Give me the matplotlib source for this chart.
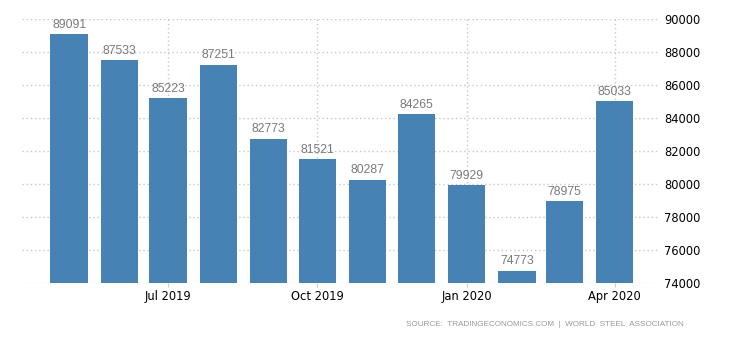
import numpy as np
import pandas as pd
import matplotlib
matplotlib.use("Agg")
import matplotlib.pyplot as plt

#DATA
months = pd.date_range("2019-05-01", "2020-04-01", freq="MS")
values = [89091, 87533, 85223, 87251, 82773, 81521, 80287, 84265, 79929, 74773, 78975, 85033]
tick_dates = pd.to_datetime(["2019-07-01", "2019-10-01", "2020-01-01", "2020-04-01"])
tick_labels = ["Jul 2019", "Oct 2019", "Jan 2020", "Apr 2020"]
yticks = np.arange(74000, 90001, 2000)

#FIGURE
fig = plt.figure(figsize=(7.3, 3.4), dpi=100)
ax = fig.add_axes([22/730, 1-283.3/340, (660-22)/730, (283.3-19.3)/340])

ax.bar(months, values, width=23, color="#4682b4", zorder=2)
for d, v in zip(months, values):
    ax.annotate(str(v), (d, v), xytext=(0, 4.5), textcoords="offset points",
                ha="center", va="baseline", fontsize=8.8, color="#7a7a7a",
                family="Liberation Sans", annotation_clip=False)

ax.set_xlim(pd.Timestamp("2019-04-02"), pd.Timestamp("2020-04-29"))
ax.set_ylim(74000, 90000)
ax.set_xticks(tick_dates)
ax.set_xticklabels(tick_labels)
ax.set_yticks(yticks)
ax.yaxis.tick_right()
ax.tick_params(axis="y", length=0, pad=3, labelsize=8.3, labelcolor="black")
ax.tick_params(axis="x", length=3, color="#cccccc", pad=2, labelsize=8.3)
ax.grid(True, linestyle=(0, (1, 2)), color="#c8c8c8", linewidth=1, zorder=0)
for s in ax.spines.values():
    s.set_visible(False)

fig.text(684/730, 1-325/340, "SOURCE:  TRADINGECONOMICS.COM  |  WORLD  STEEL  ASSOCIATION",
         ha="right", va="center", fontsize=5.9, color="#999999",
         family="Liberation Sans")

fig.savefig("out.png", dpi=100)
